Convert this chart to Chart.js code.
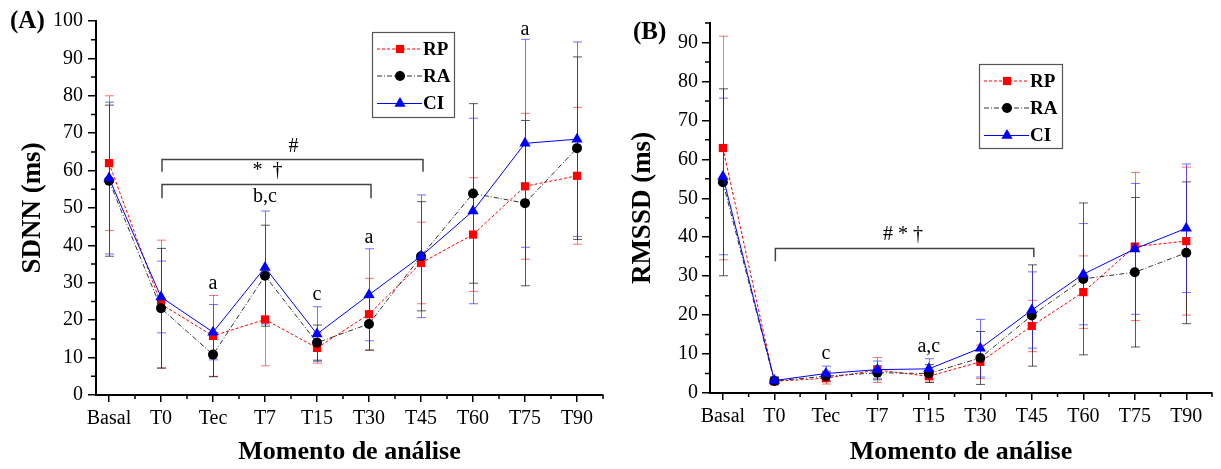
<!DOCTYPE html>
<html><head><meta charset="utf-8">
<script src="https://cdn.jsdelivr.net/npm/chart.js@4"></script>
<style>
html,body{margin:0;padding:0;background:#fff;}
#wrap{position:relative;width:1221px;height:469px;overflow:hidden;background:#fff}
canvas{position:absolute;top:0}
</style></head><body>
<div id="wrap"><canvas id="cA" width="610" height="469" style="left:0"></canvas><canvas id="cB" width="611" height="469" style="left:610px"></canvas></div>
<script>
const categories = ['Basal','T0','Tec','T7','T15','T30','T45','T60','T75','T90'];
const seriesNames = ['RP','RA','CI'];
// (A) SDNN (ms): mean and SD
const sdnnRP   = [62.0,24.3,15.8,20.2,12.6,21.6,35.3,42.9,55.8,58.6];
const sdnnRPsd = [18.0,17.1,10.8,12.4, 4.1, 9.6,10.9,15.2,19.5,18.3];
const sdnnRA   = [57.3,23.2,10.8,31.9,14.0,19.0,37.1,53.9,51.3,66.0];
const sdnnRAsd = [20.2,16.0, 5.9,13.5, 4.7, 7.0,14.6,24.0,22.1,24.4];
const sdnnCI   = [58.0,26.2,16.8,34.1,16.3,26.8,37.1,49.2,67.3,68.4];
const sdnnCIsd = [20.3, 9.6, 7.4,15.1, 7.3,12.3,16.4,24.8,27.8,26.0];
// (B) RMSSD (ms): mean and SD
const rmssdRP   = [62.9,3.0,3.8,5.9,4.3, 8.0,17.2,25.9,37.6,39.0];
const rmssdRPsd = [28.7,0.8,1.5,3.2,1.5, 4.3, 6.6, 9.3,19.0,19.0];
const rmssdRA   = [54.1,3.1,4.3,5.2,5.0, 9.0,19.9,29.3,31.0,36.0];
const rmssdRAsd = [24.0,0.9,1.3,1.8,2.3, 6.8,13.0,19.5,19.2,18.2];
const rmssdCI   = [55.6,3.2,5.0,6.0,6.2,11.5,21.3,30.5,37.0,42.3];
const rmssdCIsd = [20.1,1.0,1.9,2.2,2.6, 7.4, 9.8,13.0,16.8,16.5];
// y tick labels
const yTicksA = [0,10,20,30,40,50,60,70,80,90,100];
const yTicksB = [0,10,20,30,40,50,60,70,80,90];
// significance labels (category position, value at text baseline)
const notesA = [
  {x:2, y:28.3, t:'a'}, {x:3, y:51.5, t:'b,c'}, {x:4, y:25.5, t:'c'},
  {x:5, y:40.6, t:'a'}, {x:8, y:96.3, t:'a'},
  {x:3.55, y:65.1, t:'#'}, {x:3.05, y:58.5, t:'*  \u2020'}
];
const notesB = [
  {x:2, y:8.8, t:'c'}, {x:4, y:10.5, t:'a,c'}, {x:3.5, y:39.2, t:'# * \u2020'}
];
const bracketsA = [
  {from:1, to:6, y:63.0, dropL:59.7, dropR:59.7},
  {from:1, to:5, y:56.3, dropL:52.6, dropR:52.6}
];
const bracketsB = [
  {from:1, to:6, y:37.1, dropL:33.8, dropR:34.9}
];

const FONT = "'Liberation Serif','Times New Roman',serif";

function makeDatasets(rp, rpSd, ra, raSd, ci, ciSd){
  const pts = arr => arr.map((v,i)=>({x:i, y:v}));
  return [
    {label:seriesNames[0], data:pts(rp), sd:rpSd, borderColor:'#ff0000', borderWidth:1, borderDash:[3,2],
     pointStyle:'rect', pointRadius:5.8, pointBorderWidth:0, pointBackgroundColor:'#ff0000', pointBorderColor:'#ff0000',
     errColor:'rgba(255,40,40,0.65)', order:3},
    {label:seriesNames[1], data:pts(ra), sd:raSd, borderColor:'#333333', borderWidth:1, borderDash:[5,2,1,2],
     pointStyle:'circle', pointRadius:5, pointBorderWidth:0, pointBackgroundColor:'#000', pointBorderColor:'#000',
     errColor:'rgba(0,0,0,0.65)', order:2},
    {label:seriesNames[2], data:pts(ci), sd:ciSd, borderColor:'#0000ff', borderWidth:1, borderDash:[],
     pointStyle:'triangle', pointRadius:6.5, pointBorderWidth:0, pointBackgroundColor:'#0000ff', pointBorderColor:'#0000ff',
     errColor:'rgba(40,40,255,0.65)', order:1}
  ];
}

function overlay(cfg){
  return {
    id:'overlay'+cfg.tag,
    beforeDatasetsDraw(chart){
      const ctx = chart.ctx, xs = chart.scales.x, ys = chart.scales.y;
      chart.data.datasets.forEach(ds=>{
        ctx.save();
        ctx.strokeStyle = ds.errColor; ctx.lineWidth = 1;
        ds.data.forEach((p,i)=>{
          const sd = ds.sd[i];
          const x = Math.round(xs.getPixelForValue(p.x))+0.5;
          const yt = ys.getPixelForValue(p.y+sd), yb = ys.getPixelForValue(p.y-sd);
          ctx.beginPath();
          ctx.moveTo(x, yt); ctx.lineTo(x, yb);
          ctx.moveTo(x-4.5, yt); ctx.lineTo(x+4.5, yt);
          ctx.moveTo(x-4.5, yb); ctx.lineTo(x+4.5, yb);
          ctx.stroke();
        });
        ctx.restore();
      });
    },
    afterDraw(chart){
      const ctx = chart.ctx, xs = chart.scales.x, ys = chart.scales.y;
      ctx.save();
      // minor ticks
      ctx.strokeStyle = '#000'; ctx.lineWidth = 1.5;
      ctx.beginPath();
      for (let v=0.5; v<=9.5; v+=1){ const px = xs.getPixelForValue(v); ctx.moveTo(px, xs.top); ctx.lineTo(px, xs.top+4); }
      for (let v=5; v<=cfg.yMax; v+=10){ const py = ys.getPixelForValue(v); ctx.moveTo(ys.right, py); ctx.lineTo(ys.right-5, py); }
      ctx.stroke();
      // brackets
      ctx.strokeStyle = '#444'; ctx.lineWidth = 1.5;
      cfg.brackets.forEach(b=>{
        const x1 = xs.getPixelForValue(b.from)+1, x2 = xs.getPixelForValue(b.to)+2;
        const y = ys.getPixelForValue(b.y);
        ctx.beginPath();
        ctx.moveTo(x1, ys.getPixelForValue(b.dropL)); ctx.lineTo(x1, y); ctx.lineTo(x2, y); ctx.lineTo(x2, ys.getPixelForValue(b.dropR));
        ctx.stroke();
      });
      // notes
      ctx.fillStyle = '#000'; ctx.font = '20px '+FONT; ctx.textAlign='center'; ctx.textBaseline='alphabetic';
      cfg.notes.forEach(n=>{ ctx.fillText(n.t, xs.getPixelForValue(n.x), ys.getPixelForValue(n.y)); });
      // legend
      const L = cfg.legend;
      ctx.strokeStyle = '#555'; ctx.lineWidth = 1.2; ctx.setLineDash([]);
      ctx.strokeRect(L.x+0.5, L.y+0.5, L.w, L.h);
      const rows = [17, 44, 71.5];
      chart.data.datasets.forEach((ds,i)=>{
        const yy = L.y + rows[i];
        ctx.save();
        ctx.strokeStyle = ds.borderColor; ctx.lineWidth = 1; ctx.setLineDash(ds.borderDash);
        ctx.beginPath(); ctx.moveTo(L.x+5, yy); ctx.lineTo(L.x+50, yy); ctx.stroke();
        ctx.setLineDash([]);
        ctx.fillStyle = ds.pointBackgroundColor; ctx.strokeStyle = ds.pointBackgroundColor;
        Chart.helpers.drawPoint(ctx, {pointStyle:ds.pointStyle, radius:ds.pointRadius, rotation:0, borderWidth:0}, L.x+28, yy);
        ctx.restore();
        ctx.fillStyle = '#000'; ctx.font = 'bold 19px '+FONT; ctx.textAlign='left'; ctx.textBaseline='middle';
        ctx.fillText(ds.label, L.x+51, yy+1);
      });
      // panel label
      ctx.fillStyle = '#000'; ctx.font = 'bold 25px '+FONT; ctx.textAlign='left'; ctx.textBaseline='middle';
      ctx.fillText(cfg.panel, cfg.panelX, cfg.panelY);
      ctx.restore();
    }
  };
}

function makeChart(id, cfg, datasets){
  return new Chart(document.getElementById(id), {
    type:'line',
    data:{datasets},
    options:{
      responsive:false, animation:false, events:[],
      layout:{padding:{left:0, right:cfg.padRight, top:cfg.padTop, bottom:0}},
      plugins:{legend:{display:false}, tooltip:{enabled:false}},
      elements:{line:{tension:0}},
      scales:{
        x:{type:'linear', min:-0.25, max:9.5,
          afterBuildTicks:s=>{ s.ticks = categories.map((c,i)=>({value:i})); },
          afterFit:s=>{ s.height = cfg.xH; },
          ticks:{callback:v=>categories[v], font:{family:FONT, size:20}, color:'#000', padding:5, maxRotation:0, autoSkip:false},
          grid:{drawOnChartArea:false, drawTicks:true, tickLength:7, tickColor:'#000', lineWidth:1.5},
          border:{display:true, color:'#000', width:2},
          title:{display:true, text:'Momento de análise', color:'#000', font:{family:FONT, size:26, weight:'bold'}, padding:{top:0, bottom:1}}
        },
        y:{type:'linear', min:0, max:cfg.yMax,
          afterBuildTicks:s=>{ s.ticks = cfg.yTicks.map(v=>({value:v})); },
          afterFit:s=>{ s.width = cfg.yW; },
          ticks:{font:{family:FONT, size:20}, color:'#000', padding:cfg.yPad},
          grid:{drawOnChartArea:false, drawTicks:true, tickLength:8, tickColor:'#000', lineWidth:1.5},
          border:{display:true, color:'#000', width:2},
          title:{display:true, text:cfg.yTitle, color:'#000', font:{family:FONT, size:27, weight:'bold'}, padding:{top:16.8, bottom:0}}
        }
      }
    },
    plugins:[overlay(cfg)]
  });
}

makeChart('cA', {tag:'A', yMax:100, yTicks:yTicksA, yTitle:'SDNN (ms)', padRight:7, padTop:21, xH:74, yW:96, yPad:5,
  notes:notesA, brackets:bracketsA, legend:{x:372, y:32, w:82, h:85}, panel:'(A)', panelX:10, panelY:22},
  makeDatasets(sdnnRP, sdnnRPsd, sdnnRA, sdnnRAsd, sdnnCI, sdnnCIsd));

makeChart('cB', {tag:'B', yMax:95, yTicks:yTicksB, yTitle:'RMSSD (ms)', padRight:9, padTop:23, xH:76, yW:100, yPad:4,
  notes:notesB, brackets:bracketsB, legend:{x:369, y:64, w:83, h:84}, panel:'(B)', panelX:23, panelY:33},
  makeDatasets(rmssdRP, rmssdRPsd, rmssdRA, rmssdRAsd, rmssdCI, rmssdCIsd));
</script>
</body></html>
